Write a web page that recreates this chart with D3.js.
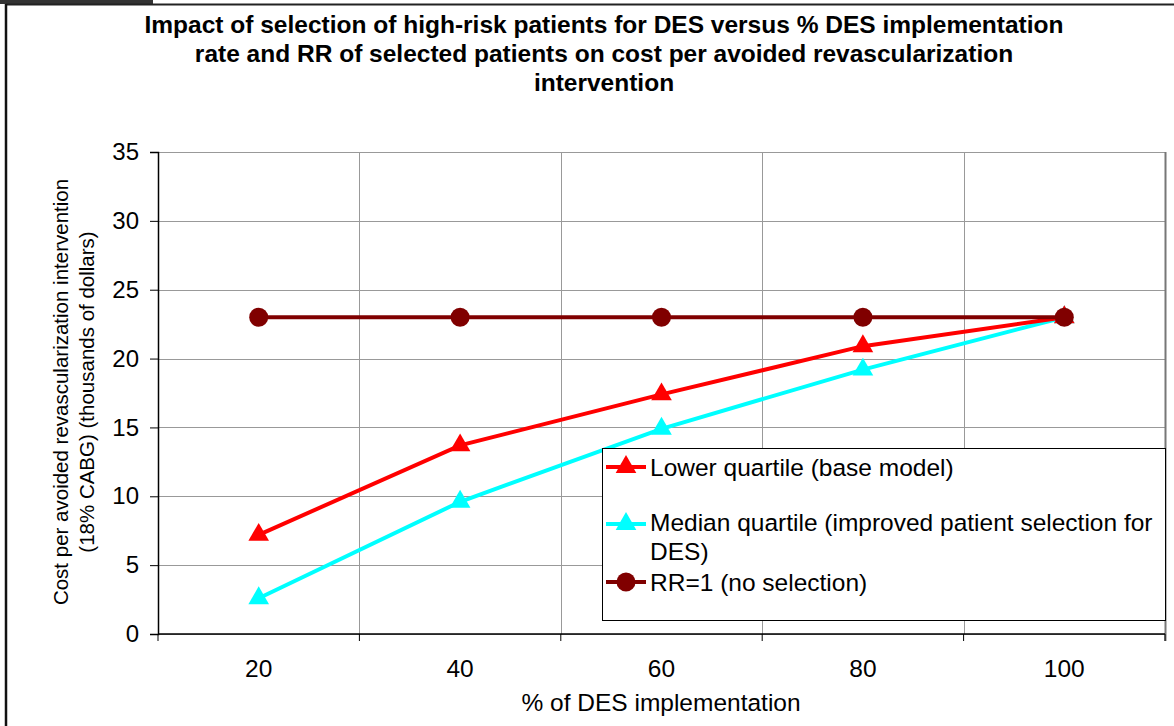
<!DOCTYPE html>
<html><head><meta charset="utf-8">
<script src="https://cdn.jsdelivr.net/npm/d3@7"></script>
<style>body{margin:0;background:#fff}svg{display:block;font-family:"Liberation Sans",Arial,sans-serif}</style>
</head><body><svg id="c" width="1174" height="726"></svg>
<script>
const categories = ["20","40","60","80","100"];
const lowerQuartile = [7.2, 13.7, 17.4, 20.9, 23.0];
const medianQuartile = [2.6, 9.6, 14.9, 19.2, 23.0];
const rrOne = [23.0, 23.0, 23.0, 23.0, 23.0];
const yTicks = [0,5,10,15,20,25,30,35];
const titleLines = ["Impact of selection of high-risk patients for DES versus % DES implementation","rate and RR of selected patients on cost per avoided revascularization","intervention"];
const seriesNames = ["Lower quartile (base model)","Median quartile (improved patient selection for","RR=1 (no selection)"];

const svg = d3.select("#c");
// frame
svg.append("rect").attr("x",0).attr("y",0).attr("width",153).attr("height",4).attr("fill","#333");
svg.append("line").attr("x1",6).attr("x2",1174).attr("y1",4.5).attr("y2",4.5).attr("stroke","#222").attr("stroke-width",2);
svg.append("line").attr("x1",6).attr("x2",6).attr("y1",4).attr("y2",726).attr("stroke","#111").attr("stroke-width",2.5);

const L=158,R=1165,T=152,B=634;
const x = d3.scaleBand().domain(categories).range([L,R]);
const y = d3.scaleLinear().domain([0,35]).range([B,T]);

// title
svg.append("g").selectAll("text").data(titleLines).join("text")
  .attr("x",604).attr("y",(d,i)=>33+i*29).attr("text-anchor","middle")
  .attr("font-weight","bold").attr("font-size",24.5).text(d=>d);

// grid
const g = svg.append("g");
g.selectAll(".hg").data(yTicks).join("line").attr("x1",L).attr("x2",R).attr("y1",d=>Math.round(y(d))+0.5).attr("y2",d=>Math.round(y(d))+0.5).attr("stroke","#999").attr("stroke-width",1);
const bounds = categories.map(c=>x(c)).concat([R]);
g.selectAll(".vg").data(bounds.slice(1)).join("line").attr("x1",d=>Math.round(d)+0.5).attr("x2",d=>Math.round(d)+0.5).attr("y1",T).attr("y2",B).attr("stroke","#999");
g.append("line").attr("x1",R+0.5).attr("x2",R+0.5).attr("y1",T).attr("y2",B+7).attr("stroke","#777").attr("stroke-width",2);

// axes
const ya = svg.append("g").attr("transform",`translate(${L},0)`).call(d3.axisLeft(y).tickValues(yTicks).tickSize(8).tickPadding(11));
ya.select(".domain").attr("stroke","#000").attr("stroke-width",1.5);
ya.selectAll("text").attr("font-size",24).attr("font-family","Liberation Sans, Arial, sans-serif").attr("fill","#000");
const xa = svg.append("g").attr("transform",`translate(0,${B})`);
xa.append("line").attr("x1",L).attr("x2",R).attr("stroke","#000").attr("stroke-width",1.5);
xa.selectAll(".tk").data(bounds).join("line").attr("x1",d=>d).attr("x2",d=>d).attr("y1",0).attr("y2",7).attr("stroke","#000");
xa.selectAll(".tl").data(categories).join("text").attr("x",d=>x(d)+x.bandwidth()/2).attr("y",43).attr("text-anchor","middle").attr("font-size",24.5).text(d=>d);

// axis titles
svg.append("text").attr("x",661).attr("y",711).attr("text-anchor","middle").attr("font-size",24.5).text("% of DES implementation");
const yt = svg.append("text").attr("transform","translate(68,392) rotate(-90)").attr("text-anchor","middle").attr("font-size",20.5);
yt.append("tspan").attr("x",0).attr("dy",0).text("Cost per avoided revascularization intervention");
yt.append("tspan").attr("x",0).attr("dy",26).text("(18% CABG) (thousands of dollars)");

const cx = d => x(d)+x.bandwidth()/2;
const line = d3.line().x((d,i)=>cx(categories[i])).y(d=>y(d));
const tri = d3.symbol().type(d3.symbolTriangle).size(185);
function series(data,color,marker){
  svg.append("path").datum(data).attr("d",line).attr("fill","none").attr("stroke",color).attr("stroke-width",4);
  const m = svg.append("g").selectAll("g").data(data).join("g").attr("transform",(d,i)=>`translate(${cx(categories[i])},${y(d)})`);
  if(marker==="tri") m.append("path").attr("d",tri).attr("fill",color);
  else m.append("circle").attr("r",9.5).attr("fill",color);
}
series(medianQuartile,"#00ffff","tri");
series(lowerQuartile,"#ff0000","tri");
series(rrOne,"#800000","circle");

// legend
const lg = svg.append("g");
lg.append("rect").attr("x",602.5).attr("y",448.5).attr("width",563).attr("height",172).attr("fill","#fff").attr("stroke","#000").attr("stroke-width",1);
const items=[{c:"#ff0000",m:"tri",y:467,ty:476},{c:"#00ffff",m:"tri",y:524,ty:531},{c:"#800000",m:"circle",y:582,ty:591}];
items.forEach((it,i)=>{
  lg.append("line").attr("x1",606).attr("x2",646).attr("y1",it.y).attr("y2",it.y).attr("stroke",it.c).attr("stroke-width",4);
  if(it.m==="tri") lg.append("path").attr("d",tri).attr("transform",`translate(626,${it.y})`).attr("fill",it.c);
  else lg.append("circle").attr("cx",626).attr("cy",it.y).attr("r",9.5).attr("fill",it.c);
  lg.append("text").attr("x",650).attr("y",it.ty).attr("font-size",24.5).text(seriesNames[i]);
});
lg.append("text").attr("x",650).attr("y",560).attr("font-size",24.5).text("DES)");
</script></body></html>
